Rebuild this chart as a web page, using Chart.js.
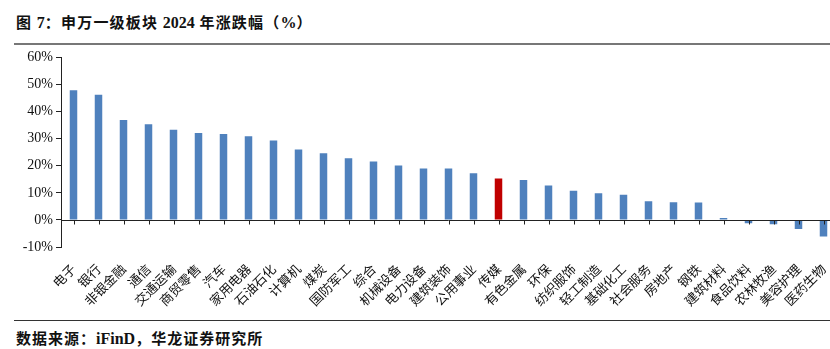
<!DOCTYPE html>
<html>
<head>
<meta charset="utf-8">
<script src="https://cdn.jsdelivr.net/npm/chart.js@4/dist/chart.umd.min.js"></script>
<style>
  html,body{margin:0;padding:0;background:#fff;overflow:hidden;}
  body{width:830px;height:349px;position:relative;}
  #title{position:absolute;left:16px;top:11px;font:bold 15px "Noto Sans CJK SC",serif;letter-spacing:1.2px;color:#111;white-space:nowrap;}
  #title .n{font-family:"Liberation Serif",serif;font-size:16px;letter-spacing:0;}
  .rule{position:absolute;left:14px;width:816px;}
  #rule1{top:43px;border-top:2px solid #777;}
  #rule2{top:320px;border-top:1px solid #333;}
  #source{position:absolute;left:16px;top:327px;font:bold 15px "Noto Sans CJK SC",serif;letter-spacing:1px;color:#111;white-space:nowrap;}
  #source .n{font-family:"Liberation Serif",serif;font-size:16px;letter-spacing:0;}
  #wrap{position:absolute;left:0;top:46px;width:842px;height:272px;}
</style>
</head>
<body>
<div id="title">图 <span class="n">7</span>：申万一级板块 <span class="n">2024</span> 年涨跌幅（<span class="n">%</span>）</div>
<div class="rule" id="rule1"></div>
<div id="wrap"><canvas id="chart"></canvas></div>
<div class="rule" id="rule2"></div>
<div id="source">数据来源：<span class="n">iFinD</span>，华龙证券研究所</div>
<script>
const categories=["电子","银行","非银金融","通信","交通运输","商贸零售","汽车","家用电器","石油石化","计算机",
  "煤炭","国防军工","综合","机械设备","电力设备","建筑装饰","公用事业","传媒","有色金属","环保",
  "纺织服饰","轻工制造","基础化工","社会服务","房地产","钢铁","建筑材料","食品饮料","农林牧渔","美容护理","医药生物"];
const changes=[47.9,46.2,36.9,35.3,33.3,32.1,31.7,30.9,29.3,26.0,
  24.6,22.8,21.6,20.1,19.0,19.0,17.2,15.3,14.7,12.7,
  10.8,9.8,9.3,6.9,6.5,6.4,0.7,-1.2,-1.6,-3.4,-6.1];
const highlight="传媒";
const yTicks=[-10,0,10,20,30,40,50,60];

const zeroLine={
  id:"zeroLine",
  afterDatasetsDraw(chart){
    const c=chart.ctx, x=chart.scales.x, y=chart.scales.y;
    const y0=Math.round(y.getPixelForValue(0))+0.5;
    c.save();
    c.strokeStyle="#222";
    c.lineWidth=1;
    c.beginPath();
    c.moveTo(chart.chartArea.left,y0);
    c.lineTo(chart.chartArea.right,y0);
    categories.forEach((cat,i)=>{
      const px=Math.round(x.getPixelForValue(i))+0.5;
      c.moveTo(px,y0);
      c.lineTo(px,y0+4);
    });
    c.stroke();
    c.restore();
  }
};

new Chart(document.getElementById("chart"),{
  type:"bar",
  data:{
    labels:categories,
    datasets:[{
      data:changes,
      backgroundColor:categories.map(c=>c===highlight?"#C00000":"#4F81BD"),
      barPercentage:0.6,
      categoryPercentage:0.5
    }]
  },
  options:{
    responsive:true,
    maintainAspectRatio:false,
    animation:false,
    layout:{padding:{left:0,right:6,top:10,bottom:0}},
    plugins:{legend:{display:false},tooltip:{enabled:false}},
    scales:{
      x:{
        afterFit(scale){scale.height=71;},
        grid:{display:false},
        border:{display:false},
        ticks:{
          minRotation:45,maxRotation:45,autoSkip:false,padding:6,
          color:"#111",
          font:{family:"Noto Sans CJK SC",size:13}
        }
      },
      y:{
        min:-10,max:60,
        afterFit(scale){scale.width=61;},
        afterBuildTicks(scale){scale.ticks=yTicks.map(v=>({value:v}));},
        grid:{drawOnChartArea:false,tickLength:5,color:"#222"},
        border:{display:true,color:"#222",width:1},
        ticks:{
          padding:3,color:"#111",
          font:{family:"Liberation Serif",size:14},
          callback:v=>v+"%"
        }
      }
    }
  },
  plugins:[zeroLine]
});
</script>
</body>
</html>
